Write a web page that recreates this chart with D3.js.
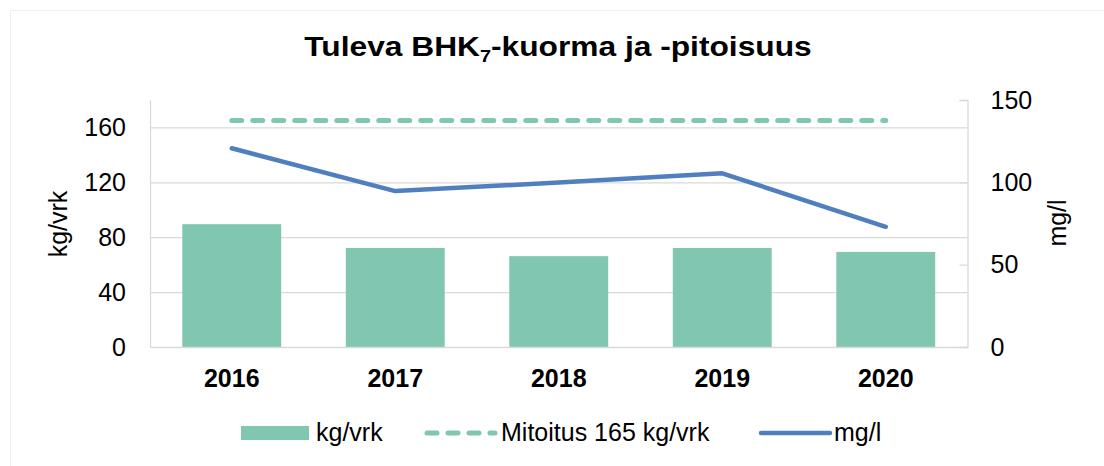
<!DOCTYPE html>
<html>
<head>
<meta charset="utf-8">
<script src="https://cdn.jsdelivr.net/npm/d3@7"></script>
<style>
  body { margin: 0; background: #fff; }
  svg { font-family: "Liberation Sans", Arial, sans-serif; }
</style>
</head>
<body>
<div id="chart"></div>
<script>
// Chart data
const years = ["2016", "2017", "2018", "2019", "2020"];
const loadKg = [89.5, 72.2, 66.2, 72.2, 69.3];      // kg/vrk, bars (left axis)
const concMg = [120.7, 94.7, 99.9, 105.5, 73.0];    // mg/l, line (right axis)
const designLoad = [165, 165, 165, 165, 165];       // Mitoitus 165 kg/vrk
const leftTicks = [0, 40, 80, 120, 160];
const rightTicks = [0, 50, 100, 150];

const W = 1104, H = 466;
const margin = { top: 100, right: 136.5, bottom: 119, left: 150 };
const width = W - margin.left - margin.right;
const height = H - margin.top - margin.bottom;

const barColor = "#80c6b1";
const lineColor = "#4f7fbe";
const gridColor = "#d9d9d9";
const fs = "25px";

const svgRoot = d3.select("#chart").append("svg")
    .attr("width", W)
    .attr("height", H);

// light outer border of chart area
svgRoot.append("rect")
    .attr("x", 10.5).attr("y", 10.5)
    .attr("width", W).attr("height", H)
    .attr("fill", "none")
    .attr("stroke", "#efefef")
    .attr("stroke-width", 1.2);

const svg = svgRoot.append("g")
    .attr("transform", `translate(${margin.left},${margin.top})`);

// scales
const x = d3.scaleBand()
    .domain(years)
    .range([0, width])
    .paddingInner(0.395)
    .paddingOuter(0.1975);

const yLeft = d3.scaleLinear().domain([0, 180]).range([height, 0]);
const yRight = d3.scaleLinear().domain([0, 150]).range([height, 0]);

// gridlines
svg.append("g")
    .attr("class", "grid")
    .call(d3.axisLeft(yLeft).tickValues(leftTicks.slice(1)).tickSize(-width).tickFormat(""))
    .call(g => g.select(".domain").remove())
    .call(g => g.selectAll("line").attr("stroke", gridColor).attr("stroke-width", 1.3));

// left axis
svg.append("g")
    .attr("class", "y-axis")
    .call(d3.axisLeft(yLeft).tickValues(leftTicks).tickSize(0).tickPadding(24))
    .call(g => g.select(".domain").attr("stroke", gridColor).attr("stroke-width", 1.3))
    .call(g => g.selectAll("text").attr("fill", "#000").style("font-size", fs));

// right axis
svg.append("g")
    .attr("class", "y-axis-right")
    .attr("transform", `translate(${width},0)`)
    .call(d3.axisRight(yRight).tickValues(rightTicks).tickSize(-8).tickPadding(23))
    .call(g => g.select(".domain").attr("stroke", gridColor).attr("stroke-width", 1.3))
    .call(g => g.selectAll("line").attr("stroke", gridColor).attr("stroke-width", 1.3))
    .call(g => g.selectAll("text").attr("fill", "#000").style("font-size", fs));

// bars
svg.selectAll(".bar")
    .data(years)
    .enter().append("rect")
    .attr("class", "bar")
    .attr("x", d => x(d))
    .attr("y", (d, i) => yLeft(loadKg[i]))
    .attr("width", x.bandwidth())
    .attr("height", (d, i) => height - yLeft(loadKg[i]))
    .attr("fill", barColor);

// x axis baseline
svg.append("g")
    .attr("class", "x-axis")
    .attr("transform", `translate(0,${height})`)
    .call(d3.axisBottom(x).tickSize(0).tickPadding(22))
    .call(g => g.select(".domain").attr("stroke", gridColor).attr("stroke-width", 1.6))
    .call(g => g.selectAll("text").attr("fill", "#000").style("font-size", fs).style("font-weight", "bold"));

const cx = d => x(d) + x.bandwidth() / 2;

// design load dashed line
svg.append("path")
    .datum(years)
    .attr("fill", "none")
    .attr("stroke", barColor)
    .attr("stroke-width", 5)
    .attr("stroke-linecap", "round")
    .attr("stroke-dasharray", "10,11")
    .attr("d", d3.line().x(cx).y((d, i) => yLeft(designLoad[i])));

// concentration line
svg.append("path")
    .datum(years)
    .attr("fill", "none")
    .attr("stroke", lineColor)
    .attr("stroke-width", 4.5)
    .attr("stroke-linecap", "round")
    .attr("stroke-linejoin", "round")
    .attr("d", d3.line().x(cx).y((d, i) => yRight(concMg[i])));

// title (slightly stretched to match the original's wide letterforms)
const title = svgRoot.append("text")
    .attr("transform", "translate(558,56) scale(1.175,1)")
    .attr("text-anchor", "middle")
    .style("font-size", "27px")
    .style("font-weight", "bold");
title.append("tspan").text("Tuleva BHK");
title.append("tspan").attr("dy", 6).style("font-size", "17px").text("7");
title.append("tspan").attr("dy", -6).text("-kuorma ja -pitoisuus");

// axis titles
svgRoot.append("text")
    .attr("transform", "translate(67,224) rotate(-90)")
    .attr("text-anchor", "middle")
    .style("font-size", fs)
    .text("kg/vrk");

svgRoot.append("text")
    .attr("transform", "translate(1066,223) rotate(-90)")
    .attr("text-anchor", "middle")
    .style("font-size", fs)
    .text("mg/l");

// legend
const legend = svgRoot.append("g").attr("class", "legend");
legend.append("rect")
    .attr("x", 241).attr("y", 426)
    .attr("width", 68).attr("height", 14)
    .attr("fill", barColor);
legend.append("text")
    .attr("x", 316).attr("y", 441)
    .style("font-size", fs)
    .text("kg/vrk");

legend.append("line")
    .attr("x1", 427).attr("x2", 495)
    .attr("y1", 433).attr("y2", 433)
    .attr("stroke", barColor)
    .attr("stroke-width", 5)
    .attr("stroke-linecap", "round")
    .attr("stroke-dasharray", "10,11");
legend.append("text")
    .attr("x", 501).attr("y", 441)
    .style("font-size", fs)
    .text("Mitoitus 165 kg/vrk");

legend.append("line")
    .attr("x1", 761).attr("x2", 830)
    .attr("y1", 433).attr("y2", 433)
    .attr("stroke", lineColor)
    .attr("stroke-width", 4.5)
    .attr("stroke-linecap", "round");
legend.append("text")
    .attr("x", 834).attr("y", 441)
    .style("font-size", fs)
    .text("mg/l");
</script>
</body>
</html>
